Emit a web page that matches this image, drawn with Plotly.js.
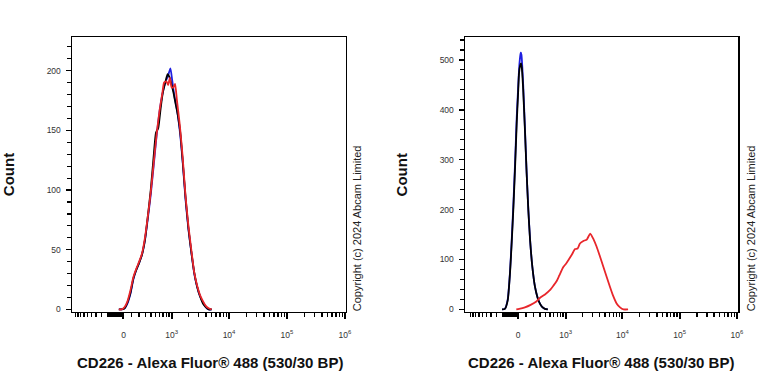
<!DOCTYPE html>
<html>
<head>
<meta charset="utf-8">
<script src="https://cdn.plot.ly/plotly-3.0.1.min.js"></script>
<style>html,body{margin:0;padding:0;background:#fff;}#chart{width:768px;height:384px;}</style>
</head>
<body>
<div id="chart"></div>
<script>
// x values are display (logicle-like) positions in decades; counts per bin
const leftBlueX  = [2.10,2.15,2.20,2.25,2.30,2.35,2.40,2.45,2.50,2.55,2.60,2.65,2.70,2.75,2.80,2.85,2.90,2.95,2.99,3.02,3.06,3.10,3.15,3.20,3.25,3.30,3.35,3.40,3.45,3.50,3.55,3.60,3.65,3.70];
const leftBlueY  = [0,0,1,5,13,25,33,39,46,58,76,96,120,145,165,180,190,196,202,192,178,168,150,124,92,67,48,30,19,11,6,2,0,0];
const leftBlackX = [2.10,2.15,2.20,2.25,2.30,2.35,2.40,2.45,2.50,2.55,2.60,2.65,2.70,2.74,2.78,2.82,2.86,2.90,2.94,2.97,3.00,3.04,3.08,3.12,3.16,3.20,3.25,3.30,3.35,3.40,3.45,3.50,3.55,3.60,3.65,3.70];
const leftBlackY = [0,0,1,6,14,26,33,39,46,58,78,100,128,148,152,168,182,190,197,195,190,182,172,162,148,125,94,68,48,31,19,11,5,2,0,0];
const leftRedX   = [2.10,2.15,2.20,2.25,2.30,2.35,2.40,2.45,2.50,2.55,2.60,2.65,2.70,2.75,2.80,2.85,2.88,2.92,2.95,2.98,3.01,3.04,3.07,3.10,3.15,3.20,3.25,3.30,3.35,3.40,3.45,3.50,3.55,3.60,3.65,3.70];
const leftRedY   = [0,0,2,7,16,27,34,40,47,60,78,98,122,146,166,181,190,191,188,194,186,186,189,176,155,128,95,70,50,31,20,12,7,3,1,0];

const rightBlueX  = [1.90,1.95,2.00,2.04,2.07,2.10,2.13,2.157,2.18,2.197,2.215,2.227,2.24,2.255,2.27,2.30,2.33,2.36,2.39,2.43,2.476,2.52,2.56,2.60,2.65,2.70];
const rightBlueY  = [0,1,20,75,140,215,300,385,440,480,505,515,510,485,450,365,275,200,140,85,45,24,12,5,1,0];
const rightBlackX = [1.90,1.95,2.00,2.04,2.07,2.10,2.13,2.157,2.18,2.197,2.215,2.232,2.245,2.258,2.27,2.30,2.33,2.36,2.39,2.43,2.476,2.52,2.56,2.60,2.65,2.70];
const rightBlackY = [0,1,18,73,135,206,290,373,430,473,488,493,485,465,440,360,273,198,139,85,45,24,12,5,1,0];
const rightRedX   = [2.15,2.20,2.30,2.40,2.50,2.56,2.65,2.74,2.80,2.855,2.90,2.97,3.02,3.06,3.12,3.175,3.22,3.26,3.32,3.38,3.44,3.50,3.55,3.61,3.67,3.73,3.785,3.84,3.90,3.96,4.02,4.10];
const rightRedY   = [0,1,4,9,16,23,30,39,48,57,68,85,92,99,110,121,122,132,137,140,152,140,126,106,85,64,45,27,12,4,0,0];

const xTickValues = [0, 1e3, 1e4, 1e5, 1e6];
const xTickLabels = ['0','10<sup>3</sup>','10<sup>4</sup>','10<sup>5</sup>','10<sup>6</sup>'];
const xTitle = 'CD226 - Alexa Fluor® 488 (530/30 BP)';
const yTitle = 'Count';
const copyright = 'Copyright (c) 2024 Abcam Limited';

// display transform (arcsinh, approximating logicle) used for tick placement
const C = 303;
function disp(v){ return Math.asinh(v / C) / Math.LN10 + Math.log10(C / 2); }
const majorPos = xTickValues.map(disp);
const minorVals = [];
for (let v = -1000; v <= -300; v += 100) minorVals.push(v);
for (let v = -200; v < 0; v += 10) minorVals.push(v);
for (let v = 100; v < 1000; v += 100) minorVals.push(v);
for (let d = 3; d <= 5; d++) for (let k = 2; k <= 9; k++) minorVals.push(k * Math.pow(10, d));
const minorPos = minorVals.map(disp);

const RED = '#e8262b', BLUE = '#1f1fe0', BLACK = '#000000';
function tr(x, y, color, xa, ya){
  return {x:x, y:y, type:'scatter', mode:'lines', line:{color:color, width:1.8, shape:'spline', smoothing:0.5}, xaxis:xa, yaxis:ya, hoverinfo:'skip', showlegend:false};
}
const data = [
  tr(leftBlueX, leftBlueY, BLUE, 'x', 'y'),
  tr(leftBlackX, leftBlackY, BLACK, 'x', 'y'),
  tr(leftRedX, leftRedY, RED, 'x', 'y'),
  tr(rightBlueX, rightBlueY, BLUE, 'x2', 'y2'),
  tr(rightBlackX, rightBlackY, BLACK, 'x2', 'y2'),
  tr(rightRedX, rightRedY, RED, 'x2', 'y2')
];

const tickFont = {family:'Arial, Liberation Sans, sans-serif', size:8.5, color:'#333'};
function xaxis(domain, range){
  return {domain:domain, range:range, tickmode:'array', tickvals:majorPos, ticktext:xTickLabels,
    ticks:'outside', ticklen:6, tickwidth:2, tickcolor:'#000', showgrid:false, zeroline:false,
    showline:true, linecolor:'#000', linewidth:1.5, mirror:true, tickfont:tickFont, ticklabelstandoff:8,
    minor:{tickmode:'array', tickvals:minorPos, ticks:'outside', ticklen:4, tickwidth:1.4, tickcolor:'#000', showgrid:false},
    fixedrange:true};
}
function yaxis(domain, range, dtick, minorStep, anchor){
  return {domain:domain, range:range, tickmode:'linear', tick0:0, dtick:dtick, anchor:anchor,
    ticks:'outside', ticklen:5, tickwidth:1.5, tickcolor:'#000', showgrid:false, zeroline:false,
    showline:true, linecolor:'#000', linewidth:1.5, mirror:true, tickfont:tickFont, ticklabelstandoff:3,
    minor:{tickmode:'linear', tick0:0, dtick:minorStep, ticks:'outside', ticklen:3.5, tickwidth:1.2, tickcolor:'#000', showgrid:false},
    fixedrange:true};
}
const yDom = [0.188, 0.903];
const titleFont = {family:'Arial, Liberation Sans, sans-serif', size:15, color:'#111', weight:'bold'};
const copyFont = {family:'Arial, Liberation Sans, sans-serif', size:11, color:'#222'};
const layout = {
  width:768, height:384, margin:{l:0, r:0, t:0, b:0},
  paper_bgcolor:'#fff', plot_bgcolor:'#fff',
  xaxis: xaxis([0.0938, 0.4505], [1.293, 6.017]),
  yaxis: yaxis(yDom, [-2, 228], 50, 10, 'x'),
  xaxis2: Object.assign(xaxis([0.6055, 0.961], [1.255, 6.019]), {anchor:'y2'}),
  yaxis2: yaxis(yDom, [-4.8, 545.4], 100, 20, 'x2'),
  annotations:[
    {xref:'paper', yref:'paper', x:0.273, y:0.057, text:'<b>'+xTitle+'</b>', showarrow:false, font:titleFont, xanchor:'center', yanchor:'middle'},
    {xref:'paper', yref:'paper', x:0.783, y:0.057, text:'<b>'+xTitle+'</b>', showarrow:false, font:titleFont, xanchor:'center', yanchor:'middle'},
    {xref:'paper', yref:'paper', x:0.011, y:0.545, text:'<b>'+yTitle+'</b>', textangle:-90, showarrow:false, font:titleFont, xanchor:'center', yanchor:'middle'},
    {xref:'paper', yref:'paper', x:0.523, y:0.545, text:'<b>'+yTitle+'</b>', textangle:-90, showarrow:false, font:titleFont, xanchor:'center', yanchor:'middle'},
    {xref:'paper', yref:'paper', x:0.465, y:0.406, text:copyright, textangle:-90, showarrow:false, font:copyFont, xanchor:'center', yanchor:'middle'},
    {xref:'paper', yref:'paper', x:0.978, y:0.406, text:copyright, textangle:-90, showarrow:false, font:copyFont, xanchor:'center', yanchor:'middle'}
  ]
};
Plotly.newPlot('chart', data, layout, {displayModeBar:false, staticPlot:true});
</script>
</body>
</html>
